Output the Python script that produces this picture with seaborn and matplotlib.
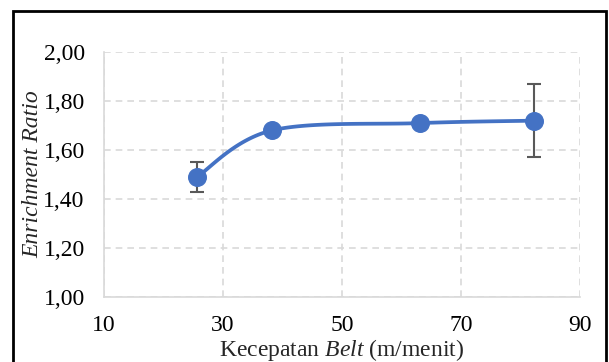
import matplotlib.pyplot as plt
import numpy as np
import pandas as pd
import seaborn as sns
from matplotlib.patches import Rectangle

# data
kecepatan = [25.6, 38.2, 63.1, 82.3]
enrichment = [1.49, 1.68, 1.71, 1.72]
err_low = [0.06, 0.0, 0.0, 0.15]
err_high = [0.06, 0.0, 0.0, 0.15]
x_ticks = [10, 30, 50, 70, 90]
y_ticks = [1.0, 1.2, 1.4, 1.6, 1.8, 2.0]

df = pd.DataFrame({"x": kecepatan, "y": enrichment})


def excel_smooth(xs, ys, n=40):
    # bezier smoothing like Excel's "smoothed line"
    p = np.column_stack([xs, ys])
    p = np.vstack([p[0], p, p[-1]])
    out = []
    t = np.linspace(0, 1, n)[:, None]
    for i in range(1, len(p) - 2):
        p0, p3 = p[i], p[i + 1]
        c1 = p0 + (p[i + 1] - p[i - 1]) / 6
        c2 = p3 - (p[i + 2] - p[i]) / 6
        seg = (1 - t) ** 3 * p0 + 3 * (1 - t) ** 2 * t * c1 + 3 * (1 - t) * t ** 2 * c2 + t ** 3 * p3
        out.append(seg)
    out = np.vstack(out)
    return out[:, 0], out[:, 1]


sns.set_theme(style="whitegrid")
plt.rcParams["font.family"] = ["Liberation Serif", "DejaVu Serif"]
plt.rcParams["mathtext.fontset"] = "custom"
plt.rcParams["mathtext.rm"] = "Liberation Serif"
plt.rcParams["mathtext.it"] = "Liberation Serif:italic"

fig = plt.figure(figsize=(6.09, 3.62), dpi=100)
ax = fig.add_axes([0.171, 0.180, 0.781, 0.676])

sx, sy = excel_smooth(kecepatan, enrichment)
ax.plot(sx, sy, color="#4472C4", lw=2.7, zorder=3)
ax.errorbar(kecepatan, enrichment, yerr=[err_low, err_high], fmt="none",
            ecolor="#595959", elinewidth=1.5, capsize=5, capthick=1.5, zorder=2)
sns.scatterplot(data=df, x="x", y="y", ax=ax, color="#4472C4", s=160,
                edgecolor="#4472C4", zorder=4, legend=False)

ax.set_xlim(10, 90)
ax.set_ylim(1.0, 2.0)
ax.set_xticks(x_ticks)
ax.set_yticks(y_ticks)
ax.set_yticklabels([f"{v:.2f}".replace(".", ",") for v in y_ticks])
ax.tick_params(axis="both", labelsize=17, colors="black", length=0)
ax.tick_params(axis="x", pad=13)
ax.tick_params(axis="y", pad=14)

ax.grid(True, color="#d9d9d9", linestyle=(0, (4, 3)), linewidth=1.2)
for side in ["top", "right"]:
    ax.spines[side].set_visible(False)
for side in ["left", "bottom"]:
    ax.spines[side].set_color("#d9d9d9")
    ax.spines[side].set_linewidth(1.2)
ax.set_facecolor("white")

ax.set_xlabel("Kecepatan $\\it{Belt}$ (m/menit)", fontsize=17, labelpad=1)
ax.set_ylabel("Enrichment Ratio", fontsize=17, style="italic", labelpad=0)

fig.patches.append(Rectangle((13 / 609, -0.05), 593 / 609, 1 - 11 / 362 + 0.05,
                             transform=fig.transFigure, fill=False,
                             edgecolor="black", lw=2))

fig.savefig("out.png", dpi=100)
